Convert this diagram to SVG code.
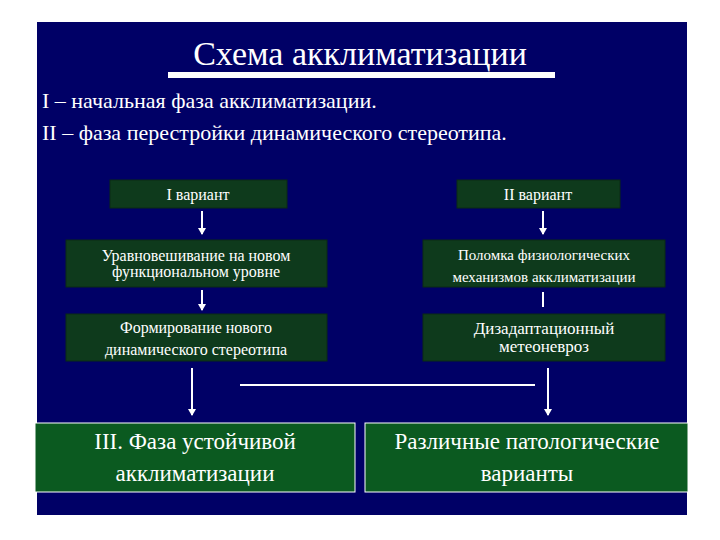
<svg xmlns="http://www.w3.org/2000/svg" width="720" height="540" viewBox="0 0 720 540" font-family="'Liberation Serif', 'Times New Roman', 'DejaVu Serif', serif">
<style>
text{font-family:'Liberation Serif','Times New Roman','DejaVu Serif',serif}
.t{fill:#fff}
.b{fill:#0e3a1c;stroke:#0a2a14;stroke-width:1}
.g{fill:#0b5a20;stroke:#fff;stroke-width:1}
.c{stroke:#fff;stroke-width:2;fill:none}
</style>
<defs><marker id="a" markerWidth="8" markerHeight="8" refX="6" refY="4" orient="auto" markerUnits="userSpaceOnUse"><path d="M0,0L7,4L0,8z" fill="#fff"/></marker></defs>
<rect width="720" height="540" fill="#fff"/>
<rect x="37" y="22" width="650" height="493" fill="#000066"/>
<g id="title">
<text class="t" x="360" y="65" font-size="34" text-anchor="middle">Схема акклиматизации</text>
<rect x="168" y="72" width="387" height="6" fill="#fff"/>
<text class="t" x="42" y="108" font-size="22">I – начальная фаза акклиматизации.</text>
<text class="t" x="42" y="140" font-size="22">II – фаза перестройки динамического стереотипа.</text>
</g>
<g id="n1"><rect class="b" x="110" y="180" width="177" height="28"/><text class="t" x="198" y="200" font-size="16" text-anchor="middle">I вариант</text></g>
<g id="n2"><rect class="b" x="457" y="180" width="163" height="28"/><text class="t" x="538" y="200" font-size="16" text-anchor="middle">II вариант</text></g>
<g id="n3"><rect class="b" x="66" y="240" width="261" height="47"/><text class="t" x="196" y="261" font-size="16" text-anchor="middle">Уравновешивание на новом</text><text class="t" x="196" y="277" font-size="16" text-anchor="middle">функциональном уровне</text></g>
<g id="n4"><rect class="b" x="423" y="240" width="242" height="47"/><text class="t" x="544" y="260" font-size="15" text-anchor="middle">Поломка физиологических</text><text class="t" x="544" y="282" font-size="15" text-anchor="middle">механизмов акклиматизации</text></g>
<g id="n5"><rect class="b" x="66" y="314" width="261" height="47"/><text class="t" x="196" y="333" font-size="16" text-anchor="middle">Формирование нового</text><text class="t" x="196" y="355" font-size="16" text-anchor="middle">динамического стереотипа</text></g>
<g id="n6"><rect class="b" x="423" y="314" width="242" height="47"/><text class="t" x="544" y="334" font-size="17" text-anchor="middle">Дизадаптационный</text><text class="t" x="544" y="352" font-size="17" text-anchor="middle">метеоневроз</text></g>
<g id="n7"><rect class="g" x="35" y="423" width="320" height="69"/><text class="t" x="195" y="449" font-size="23" text-anchor="middle">III. Фаза устойчивой</text><text class="t" x="195" y="481" font-size="23" text-anchor="middle">акклиматизации</text></g>
<g id="n8"><rect class="g" x="365" y="423" width="323" height="69"/><text class="t" x="527" y="449" font-size="23" text-anchor="middle">Различные патологические</text><text class="t" x="527" y="481" font-size="23" text-anchor="middle">варианты</text></g>
<g id="connectors">
<line class="c" x1="202" y1="211" x2="202" y2="234" marker-end="url(#a)"/>
<line class="c" x1="543" y1="211" x2="543" y2="234" marker-end="url(#a)"/>
<line class="c" x1="202" y1="290" x2="202" y2="310" marker-end="url(#a)"/>
<line class="c" x1="543" y1="292" x2="543" y2="307"/>
<line class="c" x1="192" y1="368" x2="192" y2="415" stroke-width="1.5" marker-end="url(#a)"/>
<line class="c" x1="548" y1="368" x2="548" y2="415" stroke-width="1.5" marker-end="url(#a)"/>
<line class="c" x1="535" y1="385" x2="240" y2="385"/>
</g>
</svg>
